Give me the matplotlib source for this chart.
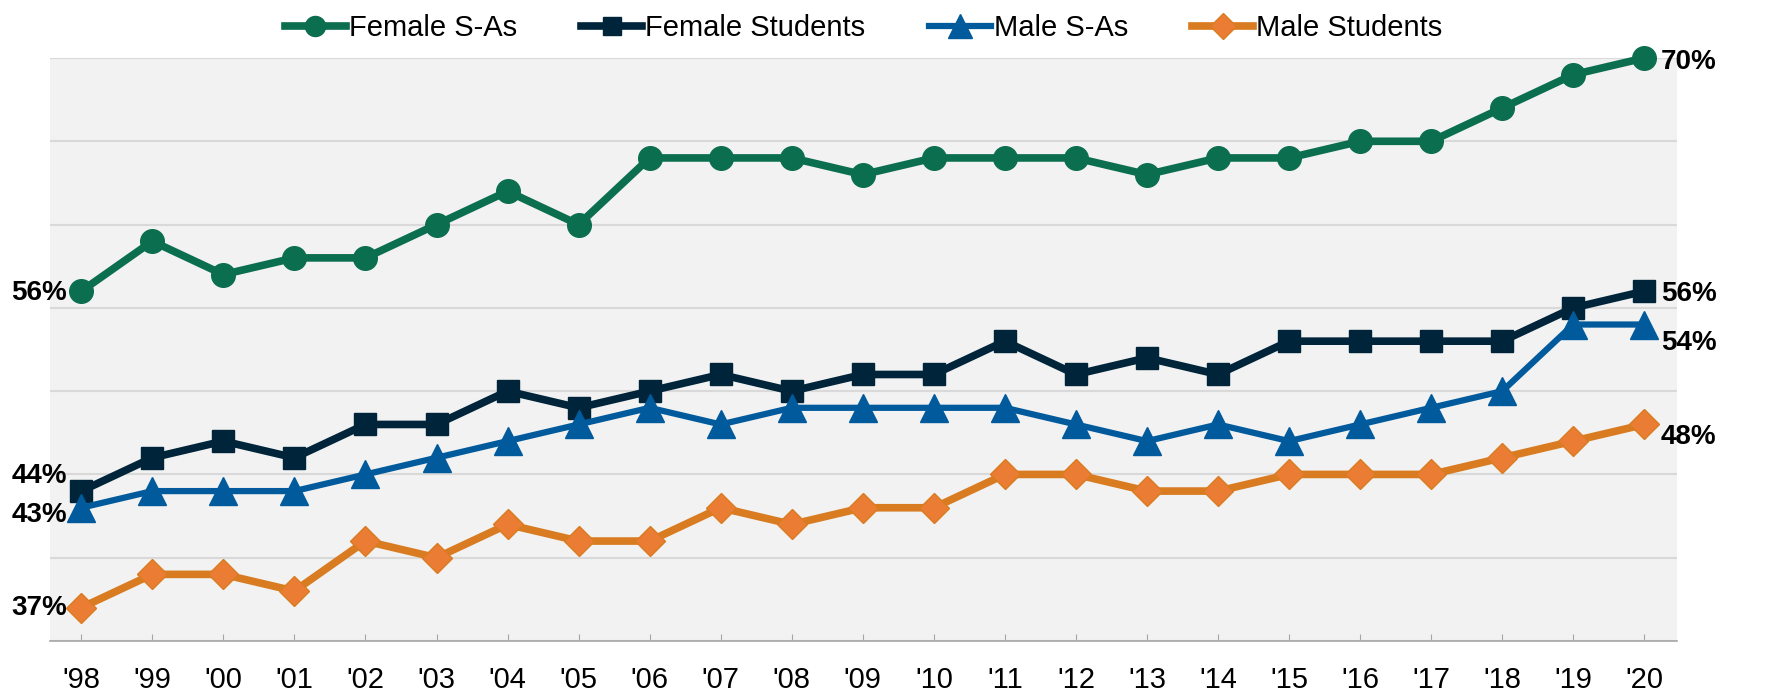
import matplotlib
matplotlib.use("Agg")
import matplotlib.pyplot as plt

plt.rcParams["font.family"] = ["Liberation Sans", "DejaVu Sans"]

YEARS = ["'98", "'99", "'00", "'01", "'02", "'03", "'04", "'05", "'06", "'07", "'08", "'09",
         "'10", "'11", "'12", "'13", "'14", "'15", "'16", "'17", "'18", "'19", "'20"]
FEMALE_SA = [56, 59, 57, 58, 58, 60, 62, 60, 64, 64, 64, 63, 64, 64, 64, 63, 64, 64, 65, 65, 67, 69, 70]
FEMALE_ST = [44, 46, 47, 46, 48, 48, 50, 49, 50, 51, 50, 51, 51, 53, 51, 52, 51, 53, 53, 53, 53, 55, 56]
MALE_SA = [43, 44, 44, 44, 45, 46, 47, 48, 49, 48, 49, 49, 49, 49, 48, 47, 48, 47, 48, 49, 50, 54, 54]
MALE_ST = [37, 39, 39, 38, 41, 40, 42, 41, 41, 43, 42, 43, 43, 45, 45, 44, 44, 45, 45, 45, 46, 47, 48]

GREEN = "#0b6e4f"; NAVY = "#00243a"; BLUE = "#005a9c"; ORANGE = "#d97b20"; ORANGE_FILL = "#ea7d33"

fig = plt.figure(figsize=(17.81, 6.92), dpi=100)
ax = fig.add_axes([50 / 1781, 51 / 692, 1627 / 1781, 583 / 692])
ax.set_facecolor("#f2f2f2")

x = list(range(len(YEARS)))
series = [
    ("Female S-As", FEMALE_SA, GREEN, GREEN, "o", 17, 5.5),
    ("Female Students", FEMALE_ST, NAVY, NAVY, "s", 16, 5.5),
    ("Male S-As", MALE_SA, BLUE, BLUE, "^", 20, 4.5),
    ("Male Students", MALE_ST, ORANGE, ORANGE_FILL, "D", 15, 5.5),
]
for name, vals, col, fill, mk, ms, lw in series:
    ax.plot(x, vals, color=col, lw=lw, marker=mk, ms=ms, mfc=fill, mec=col, mew=1,
            label=name, zorder=3, clip_on=False)

ax.set_xlim(-0.44, 22.46)
ax.set_ylim(35, 70)
ax.set_yticks(range(35, 71, 5))
ax.yaxis.grid(True, color="#d9d9d9", lw=1.5)
ax.set_axisbelow(True)
ax.tick_params(axis="y", left=False, labelleft=False)
ax.set_xticks(x)
ax.set_xticklabels(YEARS, fontsize=21)
ax.tick_params(axis="x", direction="in", length=5, color="#a6a6a6", pad=18)
for s in ["left", "right", "top"]:
    ax.spines[s].set_visible(False)
ax.spines["bottom"].set_color("#a6a6a6")
ax.spines["bottom"].set_linewidth(1.2)

def lab(i, vals, dx, dy, ha):
    ax.annotate(f"{vals[i]}%", xy=(i, vals[i]), xytext=(dx, dy), textcoords="offset points",
                ha=ha, va="center", fontsize=20, fontweight="bold", color="black",
                annotation_clip=False, zorder=5)

lab(0, FEMALE_SA, -10, -1, "right")
lab(0, FEMALE_ST, -10, 11, "right")
lab(0, MALE_SA, -10, -5, "right")
lab(0, MALE_ST, -10, 0, "right")
lab(22, FEMALE_SA, 12, -3, "left")
lab(22, FEMALE_ST, 12, -2, "left")
lab(22, MALE_SA, 12, -13, "left")
lab(22, MALE_ST, 12, -9, "left")

leg = fig.legend(loc="upper center", bbox_to_anchor=(863.5 / 1781, 1.018), ncol=4, frameon=False,
                 fontsize=21, handlelength=2.1, handletextpad=0.1, columnspacing=2.2,
                 markerscale=0.85)

fig.savefig("out.png", facecolor="white")
